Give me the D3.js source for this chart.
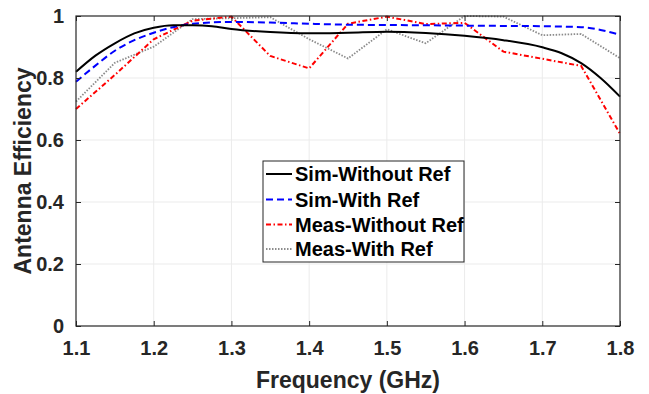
<!DOCTYPE html>
<html><head><meta charset="utf-8">
<script src="https://cdn.jsdelivr.net/npm/d3@7"></script>
<style>body{margin:0;background:#fff;} text{font-family:"Liberation Sans",Arial,sans-serif;font-weight:bold;fill:#262626;}</style>
</head><body><svg id="c" width="649" height="394"></svg>
<script>
const xTicks = [1.1,1.2,1.3,1.4,1.5,1.6,1.7,1.8];
const yTicks = [0,0.2,0.4,0.6,0.8,1];
const simWithoutF = [1.1,1.125,1.15,1.175,1.2,1.225,1.25,1.275,1.3,1.35,1.4,1.45,1.5,1.55,1.6,1.65,1.7,1.725,1.75,1.775,1.8];
const simWithoutV = [0.82,0.872,0.912,0.944,0.962,0.970,0.970,0.967,0.958,0.948,0.944,0.946,0.949,0.945,0.936,0.922,0.899,0.880,0.848,0.80,0.74];
const simWithF = [1.1,1.125,1.15,1.175,1.2,1.225,1.25,1.3,1.35,1.4,1.45,1.5,1.55,1.6,1.65,1.7,1.75,1.775,1.8];
const simWithV = [0.788,0.84,0.888,0.922,0.946,0.964,0.975,0.981,0.979,0.975,0.972,0.971,0.970,0.969,0.968,0.967,0.964,0.955,0.939];
const measF = [1.1,1.15,1.2,1.25,1.3,1.35,1.4,1.45,1.5,1.55,1.6,1.65,1.7,1.75,1.8];
const measWithoutV = [0.70,0.81,0.925,0.985,0.998,0.871,0.831,0.975,0.998,0.974,0.978,0.885,0.862,0.839,0.62];
const measWithV = [0.724,0.849,0.901,0.99,0.993,0.996,0.925,0.863,0.957,0.912,1.0,0.998,0.938,0.942,0.864];
const seriesNames = ["Sim-Without Ref","Sim-With Ref","Meas-Without Ref","Meas-With Ref"];

const svg = d3.select("#c");
const L=76,R=620,T=16,B=326;
const x = d3.scaleLinear().domain([1.1,1.8]).range([L,R]);
const y = d3.scaleLinear().domain([0,1]).range([B,T]);

// grid
const g = svg.append("g");
g.selectAll(".gx").data(xTicks.slice(1,-1)).enter().append("line")
 .attr("x1",d=>x(d)).attr("x2",d=>x(d)).attr("y1",T).attr("y2",B).attr("stroke","#ebebeb").attr("stroke-width",1);
g.selectAll(".gy").data(yTicks.slice(1,-1)).enter().append("line")
 .attr("y1",d=>y(d)).attr("y2",d=>y(d)).attr("x1",L).attr("x2",R).attr("stroke","#ebebeb").attr("stroke-width",1);

const styles = [
 {stroke:"#000000",dash:null,w:2},
 {stroke:"#0000ff",dash:"7,4",w:2},
 {stroke:"#ff0000",dash:"5,2.5,1.5,2.5",w:2},
 {stroke:"#8c8c8c",dash:"1.5,1.5",w:1.8}
];
const datasets = [
 simWithoutF.map((f,i)=>[f,simWithoutV[i]]),
 simWithF.map((f,i)=>[f,simWithV[i]]),
 measF.map((f,i)=>[f,measWithoutV[i]]),
 measF.map((f,i)=>[f,measWithV[i]])
];
const curves=[d3.curveMonotoneX,d3.curveMonotoneX,d3.curveLinear,d3.curveLinear];
const plot = svg.append("g");
[3,2,1,0].forEach(i=>{
  plot.append("path").datum(datasets[i])
   .attr("d",d3.line().x(d=>x(d[0])).y(d=>y(d[1])).curve(curves[i]))
   .attr("fill","none").attr("stroke",styles[i].stroke).attr("stroke-width",styles[i].w)
   .attr("stroke-dasharray",styles[i].dash);
});

// axes
const ax = svg.append("g");
ax.append("g").attr("transform",`translate(0,${B})`).call(d3.axisBottom(x).tickValues(xTicks).tickFormat(d3.format(".1f")).tickSize(-5).tickPadding(15))
  .call(s=>{s.select(".domain").remove();});
ax.append("g").attr("transform",`translate(0,${T})`).call(d3.axisTop(x).tickValues(xTicks).tickFormat("").tickSize(-5))
  .call(s=>{s.select(".domain").remove();});
ax.append("g").attr("transform",`translate(${L},0)`).call(d3.axisLeft(y).tickValues(yTicks).tickFormat(d=>d===0||d===1?d3.format("d")(d):d3.format(".1f")(d)).tickSize(-5).tickPadding(12))
  .call(s=>{s.select(".domain").remove();});
ax.append("g").attr("transform",`translate(${R},0)`).call(d3.axisRight(y).tickValues(yTicks).tickFormat("").tickSize(-5))
  .call(s=>{s.select(".domain").remove();});
ax.selectAll(".tick line").attr("stroke","#262626");
ax.selectAll(".tick text").style("font-size","20px").attr("fill","#262626").style("font-family","'Liberation Sans',Arial,sans-serif").style("font-weight","bold");
svg.append("rect").attr("x",L).attr("y",T).attr("width",R-L).attr("height",B-T).attr("fill","none").attr("stroke","#262626").attr("stroke-width",1.2);

svg.append("text").attr("x",(L+R)/2).attr("y",388).attr("text-anchor","middle").style("font-size","23px").text("Frequency (GHz)");
svg.append("text").attr("transform","translate(31,171) rotate(-90)").attr("text-anchor","middle").style("font-size","23px").text("Antenna Efficiency");

// legend
const lg = svg.append("g");
lg.append("rect").attr("x",263).attr("y",161).attr("width",201).attr("height",101).attr("fill","#fff").attr("stroke","#262626").attr("stroke-width",1);
const rowsY=[174,199.5,224.5,249];
seriesNames.forEach((n,i)=>{
  lg.append("line").attr("x1",266).attr("x2",292).attr("y1",rowsY[i]).attr("y2",rowsY[i])
    .attr("stroke",styles[i].stroke).attr("stroke-width",styles[i].w).attr("stroke-dasharray",styles[i].dash);
  lg.append("text").attr("x",295).attr("y",rowsY[i]).attr("dy","0.36em").style("font-size","20px").style("fill","#000").text(n);
});
</script></body></html>
